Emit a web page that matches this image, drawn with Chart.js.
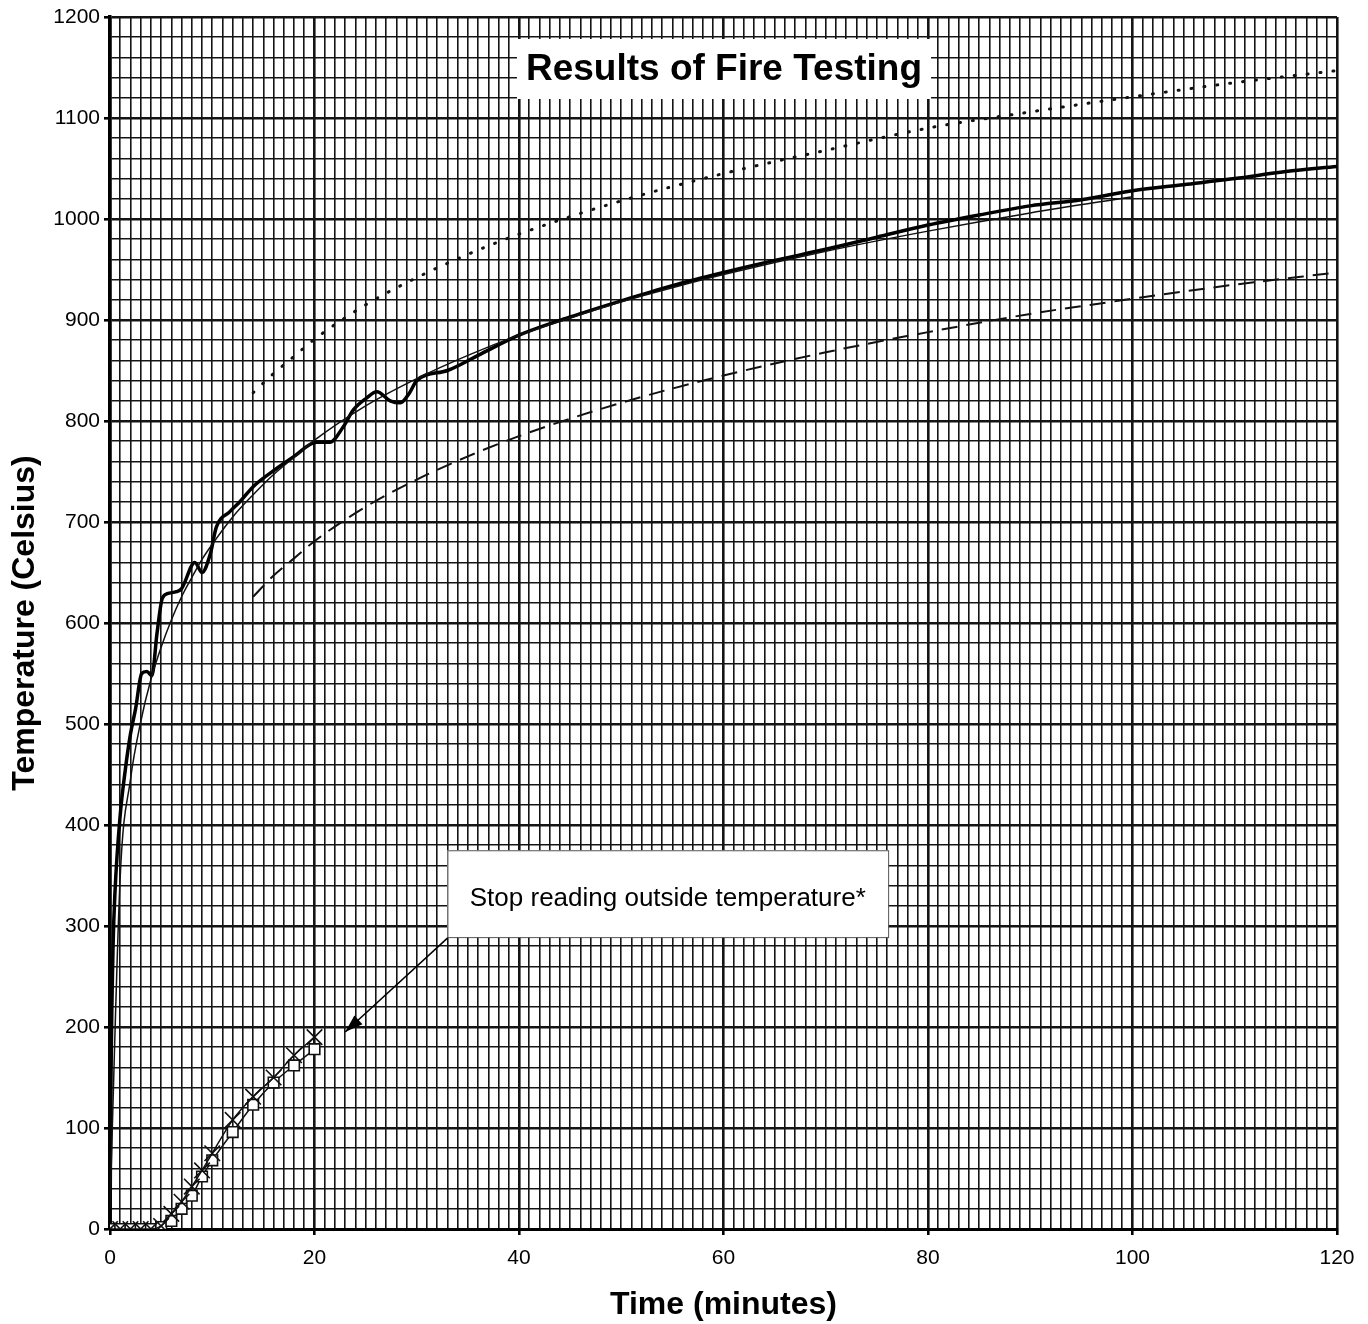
<!DOCTYPE html>
<html>
<head>
<meta charset="utf-8">
<script src="https://cdn.jsdelivr.net/npm/chart.js@4.4.1/dist/chart.umd.min.js"></script>
<style>
  html, body { margin: 0; padding: 0; background: #ffffff; }
  #wrap { width: 1368px; height: 1324px; }
</style>
</head>
<body>
<div id="wrap"><canvas id="c" width="1368" height="1324"></canvas></div>
<script>
// ---- Data ----
const chartTitle = "Results of Fire Testing";
const xTitle = "Time (minutes)";
const yTitle = "Temperature (Celsius)";
const noteText = "Stop reading outside temperature*";

const xMajorTicks = [0, 20, 40, 60, 80, 100, 120];
const yMajorTicks = [0, 100, 200, 300, 400, 500, 600, 700, 800, 900, 1000, 1100, 1200];

// measured furnace temperature (thick)
const furnaceTime = [0, 0.1, 0.3, 0.5, 1, 1.5, 2, 2.5, 3.1, 3.6, 4.1, 4.6, 5.1, 5.6, 6.5, 7, 8.3, 9, 9.8, 10.4, 11.7, 12.7, 14, 16.3, 18, 20.2, 21.5, 22.8, 23.8, 25, 26.1, 27.4, 28.4, 29.3, 30, 33, 36, 40, 45, 50, 55, 60, 65, 70, 75, 80, 85, 90, 95, 100, 105, 110, 115, 120];
const furnaceTemp = [0, 150, 280, 336, 410, 455, 490, 515, 550, 552, 548, 590, 624, 629, 631, 634, 660, 650, 668, 695, 710, 720, 735, 753, 765, 779, 779, 794, 811, 822, 829, 820, 818, 828, 840, 850, 865, 885, 903, 919, 934, 947, 959, 970, 982, 994, 1004, 1013, 1019, 1028, 1034, 1040, 1047, 1052];

// standard fire curve (thin)
const standardTime = [0, 1, 2, 3, 4, 5, 6, 7, 8, 9, 10, 12, 14, 16, 18, 20, 25, 30, 35, 40, 45, 50, 55, 60, 70, 80, 90, 100];
const standardTemp = [20, 349, 445, 502, 544, 576, 603, 626, 645, 663, 678, 705, 727, 747, 764, 781, 815, 842, 865, 885, 902, 918, 932, 945, 968, 988, 1006, 1022];

// upper limit (dotted)
const upperTime = [14, 16, 18, 20, 25, 30, 35, 40, 50, 60, 70, 80, 90, 100, 110, 120];
const upperTemp = [828, 847, 864, 881, 915, 942, 965, 985, 1018, 1045, 1068, 1090, 1106, 1121, 1135, 1147];

// lower limit (dashed)
const lowerTime = [14, 16, 18, 20, 25, 30, 35, 40, 50, 60, 70, 80, 90, 100, 110, 120];
const lowerTemp = [626, 647, 664, 681, 715, 742, 765, 785, 818, 845, 868, 888, 906, 921, 935, 947];

// outside temperature, X markers
const outsideXTime = [0, 1, 2, 3, 4, 5, 6, 7, 8, 9, 10, 12, 14, 16, 18, 20];
const outsideXTemp = [0, 0, 0, 0, 0, 3, 15, 27, 42, 58, 75, 108, 131, 150, 172, 190];

// outside temperature, square markers
const outsideSqTime = [0, 1, 2, 3, 4, 5, 6, 7, 8, 9, 10, 12, 14, 16, 18, 20];
const outsideSqTemp = [0, 0, 0, 0, 0, 2, 8, 20, 33, 52, 68, 96, 123, 145, 162, 178];

// note anchors (data space)
const noteBox = { x0: 33.0, x1: 76.1, y0: 289, y1: 375 };
const arrowTip = { x: 23.0, y: 195 };

function pts(xs, ys) { return xs.map((x, i) => ({ x: x, y: ys[i] })); }

const FONT = "'Liberation Sans', Arial, Helvetica, sans-serif";

const overlayPlugin = {
  id: 'overlay',
  beforeDatasetsDraw(chart) {
    const ctx = chart.ctx;
    const xs = chart.scales.x, ys = chart.scales.y;
    ctx.save();
    // title box
    ctx.font = "bold 37px " + FONT;
    const cx = 724, cy = 69;
    const tw = ctx.measureText(chartTitle).width;
    ctx.fillStyle = '#ffffff';
    ctx.fillRect(cx - tw / 2 - 9, 39, tw + 18, 60);
    ctx.fillStyle = '#000000';
    ctx.textAlign = 'center';
    ctx.textBaseline = 'middle';
    ctx.fillText(chartTitle, cx, cy + 1);
    // note box
    const bx0 = xs.getPixelForValue(noteBox.x0), bx1 = xs.getPixelForValue(noteBox.x1);
    const by0 = ys.getPixelForValue(noteBox.y1), by1 = ys.getPixelForValue(noteBox.y0);
    ctx.fillStyle = '#ffffff';
    ctx.fillRect(bx0, by0, bx1 - bx0, by1 - by0);
    ctx.strokeStyle = '#555555';
    ctx.lineWidth = 1;
    ctx.strokeRect(bx0 + 0.5, by0 + 0.5, bx1 - bx0, by1 - by0);
    ctx.fillStyle = '#000000';
    ctx.font = "26px " + FONT;
    ctx.fillText(noteText, (bx0 + bx1) / 2, (by0 + by1) / 2 + 5);
    ctx.restore();
  },
  afterDatasetsDraw(chart) {
    const ctx = chart.ctx;
    const xs = chart.scales.x, ys = chart.scales.y;
    const sx = xs.getPixelForValue(noteBox.x0), sy = ys.getPixelForValue(noteBox.y0) + 1;
    const tx = xs.getPixelForValue(arrowTip.x), ty = ys.getPixelForValue(arrowTip.y);
    ctx.save();
    ctx.strokeStyle = '#000';
    ctx.fillStyle = '#000';
    ctx.lineWidth = 1.5;
    ctx.beginPath();
    ctx.moveTo(sx, sy);
    ctx.lineTo(tx, ty);
    ctx.stroke();
    const a = Math.atan2(ty - sy, tx - sx);
    const L = 18, W = 6;
    ctx.beginPath();
    ctx.moveTo(tx, ty);
    ctx.lineTo(tx - L * Math.cos(a) + W * Math.sin(a), ty - L * Math.sin(a) - W * Math.cos(a));
    ctx.lineTo(tx - L * Math.cos(a) - W * Math.sin(a), ty - L * Math.sin(a) + W * Math.cos(a));
    ctx.closePath();
    ctx.fill();
    ctx.restore();
  }
};

const isMajorX = v => Math.abs(v % 20) < 1e-6;
const isMajorY = v => Math.abs(v % 100) < 1e-6;

new Chart(document.getElementById('c'), {
  type: 'line',
  data: {
    datasets: [
      {
        label: 'Outside (x)',
        data: pts(outsideXTime, outsideXTemp),
        borderColor: '#111', borderWidth: 1.5,
        pointStyle: 'crossRot', pointRadius: 11, pointBorderWidth: 1.6,
        pointBorderColor: '#111', pointBackgroundColor: 'rgba(0,0,0,0)',
        cubicInterpolationMode: 'monotone'
      },
      {
        label: 'Outside (square)',
        data: pts(outsideSqTime, outsideSqTemp),
        borderColor: '#111', borderWidth: 1.5,
        pointStyle: 'rect', pointRadius: 7.5, pointBorderWidth: 1.6,
        pointBorderColor: '#111', pointBackgroundColor: '#ffffff',
        cubicInterpolationMode: 'monotone'
      },
      {
        label: 'Upper',
        data: pts(upperTime, upperTemp),
        borderColor: '#111', borderWidth: 3, borderDash: [1, 12],
        borderCapStyle: 'round', pointRadius: 0, cubicInterpolationMode: 'monotone'
      },
      {
        label: 'Lower',
        data: pts(lowerTime, lowerTemp),
        borderColor: '#111', borderWidth: 2, borderDash: [16, 9],
        pointRadius: 0, cubicInterpolationMode: 'monotone'
      },
      {
        label: 'Standard',
        data: pts(standardTime, standardTemp),
        borderColor: '#111', borderWidth: 1.5,
        pointRadius: 0, cubicInterpolationMode: 'monotone'
      },
      {
        label: 'Furnace',
        data: pts(furnaceTime, furnaceTemp),
        borderColor: '#000', borderWidth: 3.5,
        pointRadius: 0, cubicInterpolationMode: 'monotone'
      }
    ]
  },
  options: {
    responsive: false,
    animation: false,
    events: [],
    layout: { padding: { left: 0, right: 31, top: 17, bottom: 0 } },
    plugins: { legend: { display: false }, tooltip: { enabled: false }, title: { display: false } },
    scales: {
      x: {
        type: 'linear', min: 0, max: 120,
        afterFit(s) { s.height = 95; },
        ticks: {
          stepSize: 1, autoSkip: false, maxRotation: 0, minRotation: 0, maxTicksLimit: 1000,
          color: '#000', font: { family: FONT, size: 21 }, padding: 11,
          callback: v => isMajorX(v) ? String(v) : ''
        },
        grid: {
          color: '#141414', drawTicks: true, tickLength: 6,
          lineWidth: c => (c.tick && isMajorX(c.tick.value)) ? 2.6 : 1.6,
          tickColor: c => (c.tick && isMajorX(c.tick.value)) ? '#000' : 'rgba(0,0,0,0)'
        },
        border: { display: true, color: '#000', width: 3 },
        title: { display: true, text: xTitle, color: '#000', font: { family: FONT, size: 32, weight: 'bold' }, padding: { top: 0, bottom: 0 } }
      },
      y: {
        type: 'linear', min: 0, max: 1200,
        afterFit(s) { s.width = 110; },
        ticks: {
          stepSize: 20, autoSkip: false, maxTicksLimit: 1000,
          color: '#000', font: { family: FONT, size: 21 }, padding: 4,
          callback: v => isMajorY(v) ? String(v) : ''
        },
        grid: {
          color: '#141414', drawTicks: true, tickLength: 6,
          lineWidth: c => (c.tick && isMajorY(c.tick.value)) ? 2.6 : 1.6,
          tickColor: c => (c.tick && isMajorY(c.tick.value)) ? '#000' : 'rgba(0,0,0,0)'
        },
        border: { display: true, color: '#000', width: 3.5 },
        title: { display: true, text: yTitle, color: '#000', font: { family: FONT, size: 32, weight: 'bold' }, padding: { top: 6, bottom: 0 } }
      }
    }
  },
  plugins: [overlayPlugin]
});
</script>
</body>
</html>
